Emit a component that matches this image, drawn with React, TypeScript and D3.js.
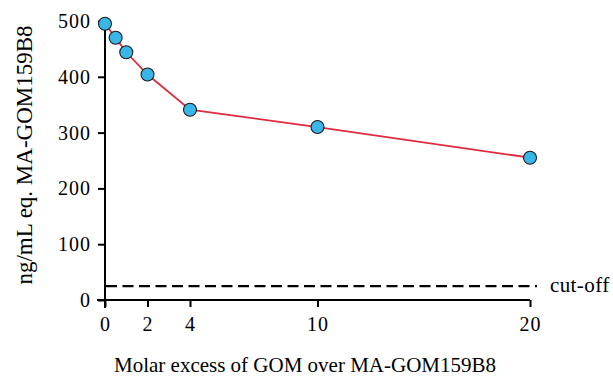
import React, { useRef, useEffect } from 'react';
import * as d3 from 'd3';

const molarExcess = [0, 0.5, 1, 2, 4, 10, 20];
const ngPerMl = [495, 470, 444, 404, 341, 310, 255];
const xTicks = [0, 2, 4, 10, 20];
const yTicks = [0, 100, 200, 300, 400, 500];
const cutOff = 25;

const App = () => {
    const chart = useRef<SVGSVGElement>(null);

    useEffect(() => {
        const width = 613;
        const height = 378;
        const font = '"Liberation Serif", "DejaVu Serif", serif';

        const svg = d3.select(chart.current);
        svg.selectAll('*').remove();
        svg.attr('width', width).attr('height', height);

        const xScale = d3.scaleLinear().domain([0, 20]).range([105, 530]);
        const yScale = d3.scaleLinear().domain([0, 500]).range([300, 21]);

        const data = molarExcess.map((x, i) => ({ x, y: ngPerMl[i] }));

        // cut-off line
        svg.append('line')
            .attr('x1', xScale(0) + 1)
            .attr('x2', 537)
            .attr('y1', yScale(cutOff))
            .attr('y2', yScale(cutOff))
            .attr('stroke', '#000')
            .attr('stroke-width', 2.2)
            .attr('stroke-dasharray', '11,5.5');

        svg.append('text')
            .attr('x', 550)
            .attr('y', yScale(cutOff) + 6)
            .style('font-family', font)
            .attr('font-size', 21)
            .attr('letter-spacing', 0.4)
            .text('cut-off');

        const xAxis = svg.append('g')
            .attr('transform', `translate(0,${yScale(0)})`)
            .call(d3.axisBottom(xScale).tickValues(xTicks).tickSize(7).tickPadding(10).tickSizeOuter(0));
        xAxis.attr('font-family', null).attr('font-size', null);
        xAxis.select('.domain').attr('stroke-width', 2).attr('d', `M${xScale(0) - 8},0H${xScale(20)}`);
        xAxis.selectAll('line').attr('stroke-width', 2);
        xAxis.selectAll('text').style('font-family', font).style('font-size', '20px').attr('letter-spacing', 1).attr('fill', '#000');

        const yAxis = svg.append('g')
            .attr('transform', `translate(${xScale(0)},0)`)
            .call(d3.axisLeft(yScale).tickValues(yTicks).tickSize(7).tickPadding(7).tickSizeOuter(0));
        yAxis.attr('font-family', null).attr('font-size', null);
        yAxis.select('.domain').attr('stroke-width', 2).attr('d', `M0,${yScale(0) + 8}V${yScale(500)}`);
        yAxis.selectAll('line').attr('stroke-width', 2);
        yAxis.selectAll('text').style('font-family', font).style('font-size', '20px').attr('letter-spacing', 1).attr('fill', '#000');

        const line = d3.line<{ x: number; y: number }>()
            .x(d => xScale(d.x))
            .y(d => yScale(d.y));

        svg.append('path')
            .datum(data)
            .attr('fill', 'none')
            .attr('stroke', '#E02A3F')
            .attr('stroke-width', 1.8)
            .attr('d', line);

        svg.selectAll('.dot')
            .data(data)
            .enter()
            .append('circle')
            .attr('cx', d => xScale(d.x))
            .attr('cy', d => yScale(d.y))
            .attr('r', 6.5)
            .attr('fill', '#38B6E8')
            .attr('stroke', '#1a1a1a')
            .attr('stroke-width', 1.1);

        svg.append('text')
            .attr('x', 305)
            .attr('y', 372)
            .attr('text-anchor', 'middle')
            .style('font-family', font)
            .attr('font-size', 21)
            .text('Molar excess of GOM over MA-GOM159B8');

        svg.append('text')
            .attr('transform', `translate(32,155) rotate(-90)`)
            .attr('text-anchor', 'middle')
            .style('font-family', font)
            .attr('font-size', 23)
            .text('ng/mL eq. MA-GOM159B8');
    }, []);

    return (
        <svg ref={chart} style={{ position: 'absolute', left: 0, top: 0 }}></svg>
    );
};

export default App;
